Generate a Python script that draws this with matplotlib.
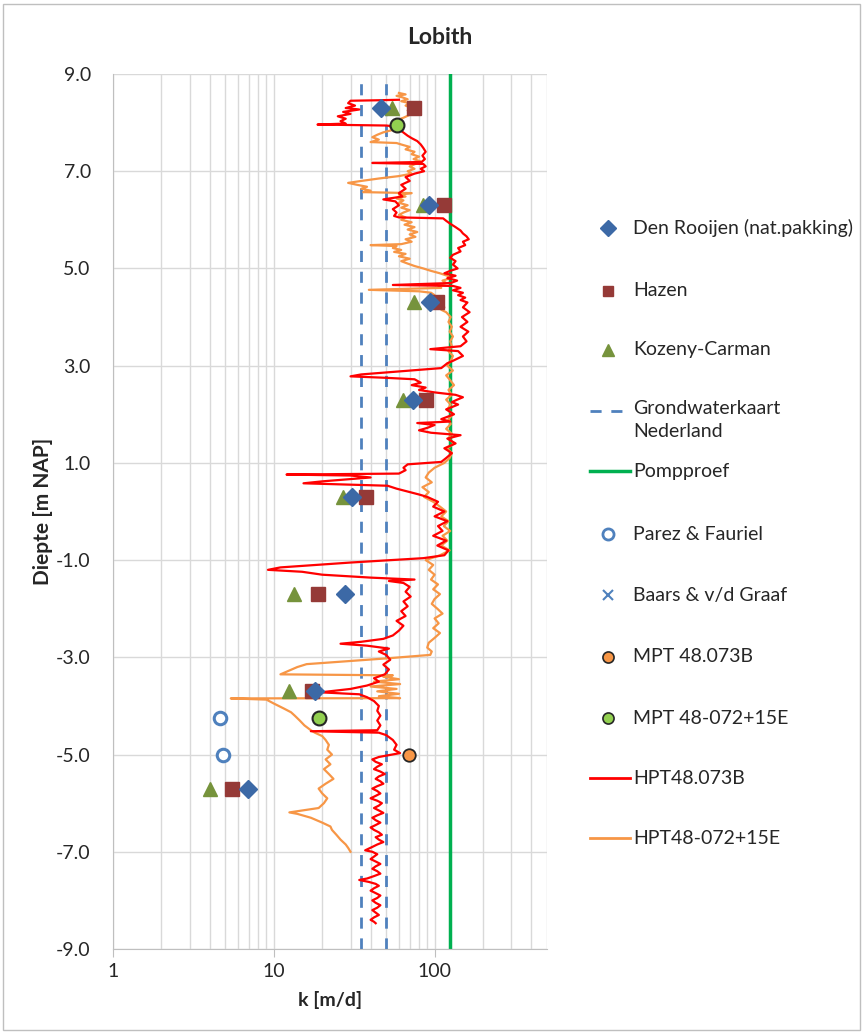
import matplotlib
matplotlib.use("Agg")
import matplotlib.pyplot as plt
from matplotlib.patches import Rectangle
from matplotlib.ticker import FixedLocator, LogLocator, NullFormatter, FixedFormatter

plt.rcParams['font.family'] = ['Lato', 'DejaVu Sans']

# ---------------- data ----------------
sample_depth = [8.3, 6.3, 4.3, 2.3, 0.3, -1.7, -3.7, -5.7]
den_rooijen_k = [46.7, 92, 93, 73, 30.8, 27.9, 18.1, 6.9]
hazen_k = [74, 115, 103, 89, 37.7, 18.7, 17.4, 5.5]
kozeny_k = [54, 85, 74, 64, 27, 13.4, 12.5, 4.0]

grondwater_k = [35, 50]
pompproef_k = 125
full_depth = [-9.0, 9.0]

parez_depth = [-4.25, -5.0]
parez_k = [4.6, 4.8]

mpt073_depth = [-5.0]
mpt073_k = [69]
mpt072_depth = [7.95, -4.25]
mpt072_k = [58, 19]

hpt073_depth = [8.47, 8.46, 8.45, 8.40, 8.35, 8.30, 8.27, 8.22, 8.18, 8.13, 8.08, 8.03, 7.98, 7.96, 7.95,
                7.94, 7.92, 7.88, 7.83, 7.78, 7.73, 7.68, 7.62, 7.55, 7.48, 7.40, 7.32, 7.25, 7.19, 7.17,
                7.15, 7.10, 7.05, 7.00, 6.95, 6.88, 6.80, 6.72, 6.64, 6.55, 6.48, 6.42, 6.38, 6.30, 6.22,
                6.15, 6.08, 6.05, 6.03, 5.98, 5.92, 5.85, 5.78, 5.72, 5.66, 5.60, 5.55, 5.48, 5.42, 5.35,
                5.28, 5.22, 5.15, 5.08, 5.00, 4.95, 4.90, 4.85, 4.80, 4.75, 4.70, 4.66, 4.64, 4.60, 4.55,
                4.50, 4.45, 4.40, 4.35, 4.30, 4.20, 4.10, 4.00, 3.90, 3.80, 3.70, 3.60, 3.50, 3.40, 3.34,
                3.30, 3.20, 3.10, 3.05, 2.95, 2.88, 2.82, 2.78, 2.75, 2.72, 2.65, 2.60, 2.55, 2.50, 2.45,
                2.40, 2.35, 2.30, 2.25, 2.20, 2.10, 2.00, 1.90, 1.85, 1.82, 1.78, 1.72, 1.67, 1.62, 1.57,
                1.50, 1.40, 1.30, 1.20, 1.10, 1.02, 0.97, 0.90, 0.85, 0.78, 0.76, 0.74, 0.70, 0.62, 0.58,
                0.53, 0.47, 0.40, 0.35, 0.30, 0.20, 0.10, 0.00, -0.10, -0.20, -0.30, -0.40, -0.50, -0.60,
                -0.70, -0.80, -0.90, -0.96, -1.05, -1.15, -1.20, -1.24, -1.30, -1.36, -1.40, -1.43, -1.47,
                -1.55, -1.65, -1.75, -1.85, -1.95, -2.05, -2.15, -2.25, -2.35, -2.45, -2.55, -2.62, -2.68,
                -2.72, -2.76, -2.82, -2.88, -2.95, -3.05, -3.15, -3.25, -3.35, -3.43, -3.50, -3.58, -3.65,
                -3.72, -3.76, -3.82, -3.90, -4.00, -4.10, -4.20, -4.30, -4.40, -4.50, -4.52, -4.55, -4.60,
                -4.70, -4.80, -4.90, -4.97,
                -5.05, -5.10, -5.15, -5.20, -5.25, -5.30, -5.35, -5.40, -5.45, -5.50, -5.55, -5.60, -5.65,
                -5.70, -5.75, -5.80, -5.85, -5.90, -5.95, -6.00, -6.05, -6.10, -6.15, -6.20, -6.25, -6.30,
                -6.35, -6.40, -6.45, -6.50, -6.55, -6.60, -6.65, -6.70, -6.75, -6.80, -6.85, -6.90, -6.95,
                -6.97, -7.00, -7.05, -7.10, -7.15, -7.20, -7.25, -7.30, -7.35, -7.40, -7.45, -7.50, -7.55,
                -7.58, -7.62, -7.66, -7.70, -7.75, -7.80, -7.85, -7.90, -7.95, -8.00, -8.05, -8.10, -8.15,
                -8.20, -8.25, -8.30, -8.35, -8.40, -8.44, -8.47]
hpt073_k = [60, 45, 30, 29, 32, 28, 34, 27, 30, 25, 28, 26, 28, 18.7, 30,
            50, 57, 56, 62, 65, 68, 72, 78, 82, 85, 88, 84, 87, 83, 41,
            85, 88, 82, 86, 75, 66, 70, 62, 66, 60, 63, 48, 57, 60, 55,
            58, 56, 60, 113, 118, 125, 135, 145, 150, 158, 163, 150, 155, 140, 145,
            130, 125, 135, 130, 139, 125, 115, 135, 120, 138, 126, 55, 130, 145, 130,
            150, 140, 155, 145, 160, 150, 165, 148, 160, 145, 162, 150, 158, 145, 94,
            140, 150, 130, 120, 110, 60, 35, 30, 50, 75, 82, 72, 88, 80, 100,
            135, 150, 138, 128, 140, 118, 132, 110, 125, 78, 100, 90, 80, 95, 145,
            120, 135, 115, 128, 118, 110, 68, 64, 66, 60, 12, 30, 40, 20, 15.3,
            51, 58, 70, 80, 90, 105, 98, 115, 100, 120, 105, 112, 98, 118,
            104, 122, 115, 85, 30, 11, 9.2, 15, 20, 40, 75, 52, 64,
            70, 66, 71, 64, 68, 62, 66, 58, 64, 60, 55, 48, 35,
            26, 38, 52, 45, 50, 53, 48, 52, 49, 42, 45, 38, 30,
            19.5, 34, 38, 42, 45, 44, 46, 44, 46, 44, 17, 45, 50,
            55, 58, 56, 61,
            45, 41, 43, 47, 44, 42, 46, 49, 45, 43, 46, 48, 44,
            41, 44, 46, 43, 40, 44, 47, 45, 42, 45, 48, 44, 41,
            43, 46, 43, 40, 42, 45, 47, 43, 45, 48, 44, 41, 38,
            37, 41, 44, 42, 40, 43, 46, 43, 41, 44, 46, 42, 38,
            34, 39, 43, 45, 42, 40, 43, 46, 44, 41, 43, 46, 44,
            41, 43, 45, 42, 40, 42, 43]

hpt072_depth = [8.61, 8.58, 8.55, 8.52, 8.48, 8.44, 8.40, 8.35, 8.30, 8.25, 8.20, 8.15, 8.10, 8.05, 8.00,
                7.95, 7.90, 7.85, 7.80, 7.75, 7.70, 7.65, 7.60, 7.58, 7.55, 7.50, 7.45, 7.40, 7.35, 7.30,
                7.25, 7.20, 7.15, 7.10, 7.05, 7.00, 6.95, 6.90, 6.85, 6.80, 6.76, 6.72, 6.68, 6.64, 6.60,
                6.57, 6.55, 6.52, 6.48, 6.44, 6.40, 6.35, 6.30, 6.25, 6.20, 6.15, 6.10, 6.05, 6.00, 5.95,
                5.90, 5.85, 5.80, 5.75, 5.70, 5.65, 5.60, 5.55, 5.50, 5.48, 5.46, 5.42, 5.38, 5.34, 5.30,
                5.25, 5.20, 5.15, 5.10, 5.05, 5.00, 4.95, 4.90, 4.85, 4.80, 4.75, 4.70, 4.65, 4.60, 4.56,
                4.53, 4.50, 4.45, 4.40, 4.35, 4.30, 4.25, 4.20, 4.15, 4.10, 4.05, 4.00, 3.90, 3.80, 3.70,
                3.60, 3.50, 3.40, 3.30, 3.20, 3.10, 3.00, 2.90, 2.80, 2.70, 2.60, 2.50, 2.40, 2.30, 2.20,
                2.10, 2.00, 1.90, 1.80, 1.70, 1.60, 1.50, 1.40, 1.30, 1.20, 1.10, 1.00, 0.90, 0.80, 0.70,
                0.60, 0.50, 0.40, 0.30, 0.20, 0.10, 0.00, -0.10, -0.20, -0.30, -0.40, -0.50, -0.60, -0.70,
                -0.80, -0.90, -1.00, -1.10, -1.20, -1.30, -1.40, -1.50, -1.60, -1.70, -1.80, -1.90, -2.00,
                -2.10, -2.20, -2.30, -2.40, -2.50, -2.60, -2.70, -2.80, -2.88, -2.95, -3.02, -3.14, -3.20,
                -3.35, -3.37, -3.40, -3.45, -3.50, -3.55, -3.60, -3.65, -3.70, -3.75, -3.80, -3.84, -3.845,
                -3.87, -3.95, -4.05, -4.13, -4.20, -4.30, -4.40, -4.50, -4.55, -4.62, -4.70, -4.80, -4.90,
                -5.00, -5.10, -5.20, -5.30, -5.40, -5.50, -5.60, -5.70, -5.80, -5.90, -6.00, -6.10, -6.15,
                -6.19, -6.22, -6.30, -6.40, -6.48, -6.55, -6.65, -6.75, -6.85, -6.92, -7.00]
hpt072_k = [60, 66, 58, 63, 68, 62, 70, 66, 72, 68, 74, 69, 64, 58, 55,
            57, 53, 55, 48, 44, 41, 45, 40, 58, 62, 70, 66, 75, 72, 80,
            74, 82, 76, 70, 75, 68, 72, 60, 45, 35, 29, 33, 38, 35, 40,
            36, 72, 60, 66, 58, 64, 60, 68, 62, 70, 64, 60, 66, 62, 72,
            65, 75, 68, 78, 70, 76, 66, 72, 62, 40, 58, 55, 62, 56, 66,
            60, 70, 62, 68, 75, 85, 95, 108, 120, 126, 112, 118, 105, 110, 39,
            80, 95, 100, 90, 105, 112, 106, 115, 110, 118, 122, 126, 122, 128, 124,
            130, 125, 128, 122, 130, 126, 120, 130, 118, 125, 132, 122, 128, 118, 126,
            120, 130, 122, 126, 118, 128, 122, 132, 120, 128, 124, 115, 100, 92, 88,
            96, 84, 92, 86, 98, 108, 118, 110, 122, 114, 125, 112, 120, 110,
            124, 108, 88, 98, 92, 100, 95, 105, 98, 108, 100, 96, 104,
            112, 100, 106, 98, 108, 100, 92, 90, 96, 94, 51, 16, 14,
            11, 55, 48, 60, 42, 61, 40, 58, 44, 60, 45, 61, 5.4,
            9.0, 10, 11.5, 12.8, 13.5, 14.5, 15.5, 17, 18, 20, 21, 22, 21.5,
            23, 21, 22.5, 20.5, 22, 23.5, 21, 19, 20, 21.5, 20.5, 19, 15,
            12.5, 14, 17, 20, 22.5, 23, 24.5, 26, 28, 29, 30]

y_ticks = [9.0, 7.0, 5.0, 3.0, 1.0, -1.0, -3.0, -5.0, -7.0, -9.0]
x_ticks = [1, 10, 100]
x_tick_labels = ["1", "10", "100"]

legend_labels = ["Den Rooijen (nat.pakking)", "Hazen", "Kozeny-Carman",
                 "Grondwaterkaart\nNederland", "Pompproef", "Parez & Fauriel",
                 "Baars & v/d Graaf", "MPT 48.073B", "MPT 48-072+15E",
                 "HPT48.073B", "HPT48-072+15E"]

# ---------------- styles ----------------
C_DIAMOND = "#3C69A6"
C_SQUARE = "#953A37"
C_TRI = "#76933C"
C_BLUE = "#4F81BD"
C_GREEN = "#00B050"
C_RED = "#FF0000"
C_ORANGE = "#F79646"
C_MPT_ORANGE = "#F79646"
C_MPT_GREEN = "#92D050"
GRID = "#D9D9D9"
TXT = "#262626"
FS = 14

W, H = 865, 1035
fig = plt.figure(figsize=(W / 100, H / 100), dpi=100)

left, right, top, bottom = 113, 547, 74, 949
ax = fig.add_axes([left / W, 1 - bottom / H, (right - left) / W, (bottom - top) / H])
ax.set_xscale("log")
ax.set_xlim(1, 500)
ax.set_ylim(-9, 9)

ax.xaxis.set_major_locator(FixedLocator(x_ticks))
ax.xaxis.set_major_formatter(FixedFormatter(x_tick_labels))
ax.xaxis.set_minor_locator(LogLocator(base=10, subs=range(2, 10)))
ax.xaxis.set_minor_formatter(NullFormatter())
ax.yaxis.set_major_locator(FixedLocator(y_ticks))
ax.set_yticklabels([f"{v:.1f}" for v in y_ticks])

ax.grid(True, which="both", axis="x", color=GRID, lw=1.0)
ax.grid(True, which="major", axis="y", color=GRID, lw=1.0)
ax.set_axisbelow(True)
for s in ["top", "right"]:
    ax.spines[s].set_visible(False)
ax.spines["left"].set_color("#BFBFBF")
ax.spines["bottom"].set_color("#BFBFBF")
ax.tick_params(axis="x", which="major", length=6, color="#BFBFBF", labelsize=FS, labelcolor=TXT, pad=4)
ax.tick_params(axis="x", which="minor", length=0)
ax.tick_params(axis="y", which="major", length=0, labelsize=FS, labelcolor=TXT, pad=16)

# vertical reference lines
for kv in grondwater_k:
    ax.plot([kv, kv], full_depth, color=C_BLUE, lw=2.0, dashes=(4, 3.5), zorder=2)
ax.plot([pompproef_k, pompproef_k], full_depth, color=C_GREEN, lw=2.5, zorder=2)

# HPT profiles
ax.plot(hpt072_k, hpt072_depth, color=C_ORANGE, lw=1.6, zorder=3)
ax.plot(hpt073_k, hpt073_depth, color=C_RED, lw=1.6, zorder=4)

# lab estimates
ax.plot(hazen_k, sample_depth, ls="none", marker="s", ms=9.5, color=C_SQUARE, zorder=5)
ax.plot(kozeny_k, sample_depth, ls="none", marker="^", ms=10, color=C_TRI, zorder=5)
ax.plot(den_rooijen_k, sample_depth, ls="none", marker="D", ms=9.5, color=C_DIAMOND, zorder=6)
ax.plot(parez_k, parez_depth, ls="none", marker="o", ms=9, mfc="white", mec=C_BLUE, mew=2.2, zorder=6)
ax.plot(mpt073_k, mpt073_depth, ls="none", marker="o", ms=9, mfc=C_MPT_ORANGE, mec="#262626", mew=1.3, zorder=7)
ax.plot(mpt072_k, mpt072_depth, ls="none", marker="o", ms=10, mfc=C_MPT_GREEN, mec="#262626", mew=1.5, zorder=7)

ax.set_xlabel("k [m/d]", fontsize=FS, fontweight="bold", color=TXT, labelpad=8)
ax.set_ylabel("Diepte [m NAP]", fontsize=15, fontweight="bold", color=TXT, labelpad=2)
fig.text(440 / W, 1 - 37 / H, "Lobith", ha="center", va="center", fontsize=16.5, fontweight="bold", color=TXT)

# ---------------- legend (manual, pixel layout) ----------------
lax = fig.add_axes([0, 0, 1, 1], zorder=10)
lax.set_xlim(0, W)
lax.set_ylim(H, 0)
lax.axis("off")
lax.add_patch(Rectangle((3, 4), W - 8, H - 9, fill=False, ec="#BFBFBF", lw=1.0))

leg_y = [228, 291, 350, 411, 471, 534, 595, 657, 718, 778, 838]
mx = 608
tx = 633
lax.plot([mx], [leg_y[0]], marker="D", ms=8, color=C_DIAMOND, ls="none")
lax.plot([mx], [leg_y[1]], marker="s", ms=7.5, color=C_SQUARE, ls="none")
lax.plot([mx], [leg_y[2]], marker="^", ms=8, color=C_TRI, ls="none")
lax.plot([590, 624], [leg_y[3], leg_y[3]], color=C_BLUE, lw=2.0, dashes=(4, 3.5))
lax.plot([590, 630], [leg_y[4], leg_y[4]], color=C_GREEN, lw=2.5)
lax.plot([mx], [leg_y[5]], marker="o", ms=8, mfc="white", mec=C_BLUE, mew=2.0, ls="none")
lax.plot([mx], [leg_y[6]], marker="x", ms=7, mec=C_BLUE, mew=1.5, ls="none")
lax.plot([mx], [leg_y[7]], marker="o", ms=8, mfc=C_MPT_ORANGE, mec="#262626", mew=1.2, ls="none")
lax.plot([mx], [leg_y[8]], marker="o", ms=8, mfc=C_MPT_GREEN, mec="#262626", mew=1.2, ls="none")
lax.plot([590, 630], [leg_y[9], leg_y[9]], color=C_RED, lw=2.0)
lax.plot([590, 630], [leg_y[10], leg_y[10]], color=C_ORANGE, lw=2.0)

for yy, lab in zip(leg_y, legend_labels):
    if "\n" in lab:
        lax.text(tx, yy - 11, lab, ha="left", va="top", fontsize=FS, color=TXT, linespacing=1.45)
    else:
        lax.text(tx, yy, lab, ha="left", va="center", fontsize=FS, color=TXT)

fig.savefig("out.png", dpi=100)
